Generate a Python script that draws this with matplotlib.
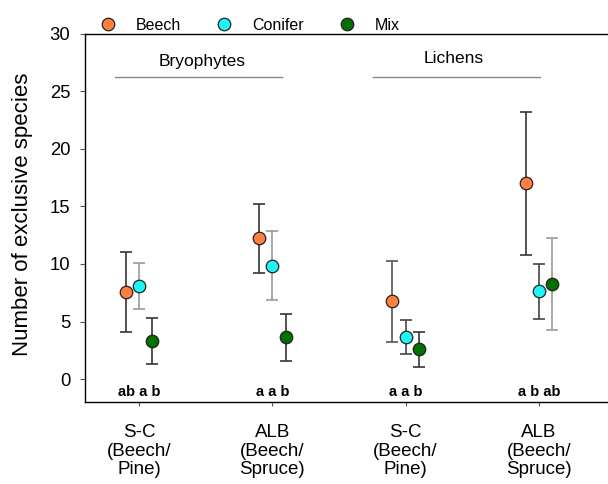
import matplotlib
matplotlib.use("Agg")
import matplotlib.pyplot as plt
import numpy as np

plt.rcParams['font.family'] = ['Liberation Sans', 'DejaVu Sans']

categories = ["S-C\n(Beech/\nPine)", "ALB\n(Beech/\nSpruce)", "S-C\n(Beech/\nPine)", "ALB\n(Beech/\nSpruce)"]
series = ["Beech", "Conifer", "Mix"]
means = {
    "Beech":   [7.57, 12.25, 6.77, 17.03],
    "Conifer": [8.07, 9.86, 3.62, 7.66],
    "Mix":     [3.32, 3.64, 2.57, 8.30],
}
upper = {
    "Beech":   [11.0, 15.18, 10.23, 23.24],
    "Conifer": [10.06, 12.84, 5.09, 10.0],
    "Mix":     [5.30, 5.61, 4.05, 12.25],
}
lower = {
    "Beech":   [4.05, 9.22, 3.24, 10.75],
    "Conifer": [6.07, 6.85, 2.14, 5.26],
    "Mix":     [1.30, 1.59, 1.04, 4.25],
}
letters = ["ab a b", "a a b", "a a b", "a b ab"]
groups = ["Bryophytes", "Lichens"]

colors = {"Beech": "#FF7F3F", "Conifer": "#1EF5F5", "Mix": "#007000"}
bar_colors = {
    "Beech":   ["#333333", "#333333", "#555555", "#333333"],
    "Conifer": ["#999999", "#999999", "#444444", "#444444"],
    "Mix":     ["#333333", "#333333", "#333333", "#999999"],
}
offsets = {"Beech": -0.1, "Conifer": 0.0, "Mix": 0.1}
centers = np.arange(1, 5)

fig = plt.figure(figsize=(6.08, 4.84), dpi=100)
ax = fig.add_axes([0.1398, 0.1694, 0.8602, 0.7604])

handles = []
for s in series:
    for i in range(4):
        x = centers[i] + offsets[s]
        m = means[s][i]
        ax.errorbar([x], [m], yerr=[[m - lower[s][i]], [upper[s][i] - m]],
                    fmt='none', ecolor=bar_colors[s][i], elinewidth=1.2,
                    capsize=4.2, capthick=1.2, zorder=2)
    h, = ax.plot(centers + offsets[s], means[s], 'o', color=colors[s],
                 markeredgecolor='#222222', markeredgewidth=0.9,
                 markersize=9, linestyle='none', zorder=3, label=s)
    handles.append(h)

ax.set_xlim(0.595, 4.518)
ax.set_ylim(-2, 30)
ax.set_yticks([0, 5, 10, 15, 20, 25, 30])
ax.set_xticks(centers)
ax.set_xticklabels(categories, fontsize=13.5, linespacing=1.12)
ax.tick_params(axis='y', labelsize=13.3, direction='out', length=3.6, width=0.8,
               pad=7, color='#555555')
ax.tick_params(axis='x', direction='out', length=3, width=0.8, pad=13, color='#555555')
ax.spines['right'].set_visible(False)
for sp in ['left', 'bottom', 'top']:
    ax.spines[sp].set_linewidth(1.0)
ax.set_ylabel("Number of exclusive species", fontsize=16)
ax.yaxis.label.set_verticalalignment('center')
ax.yaxis.set_label_coords(-0.12, 0.51)

for c, lt in zip(centers, letters):
    ax.text(c, -1.15, lt, ha='center', va='center', fontsize=10.5, fontweight='bold')

ax.plot([0.82, 2.073], [26.23, 26.23], color='#888888', lw=1.0)
ax.plot([2.758, 4.008], [26.23, 26.23], color='#888888', lw=1.0)
ax.text(1.476, 27.22, groups[0], ha='center', va='baseline', fontsize=12.5)
ax.text(3.361, 27.48, groups[1], ha='center', va='baseline', fontsize=12.5)

leg = ax.legend(handles=handles, ncol=3, loc='lower left',
                bbox_to_anchor=(0.0287, 1.003), frameon=False, fontsize=11.5,
                handlelength=1.0, handletextpad=1.25, columnspacing=2.2,
                borderaxespad=0.0, borderpad=0.0)

fig.savefig("out.png", dpi=100)
